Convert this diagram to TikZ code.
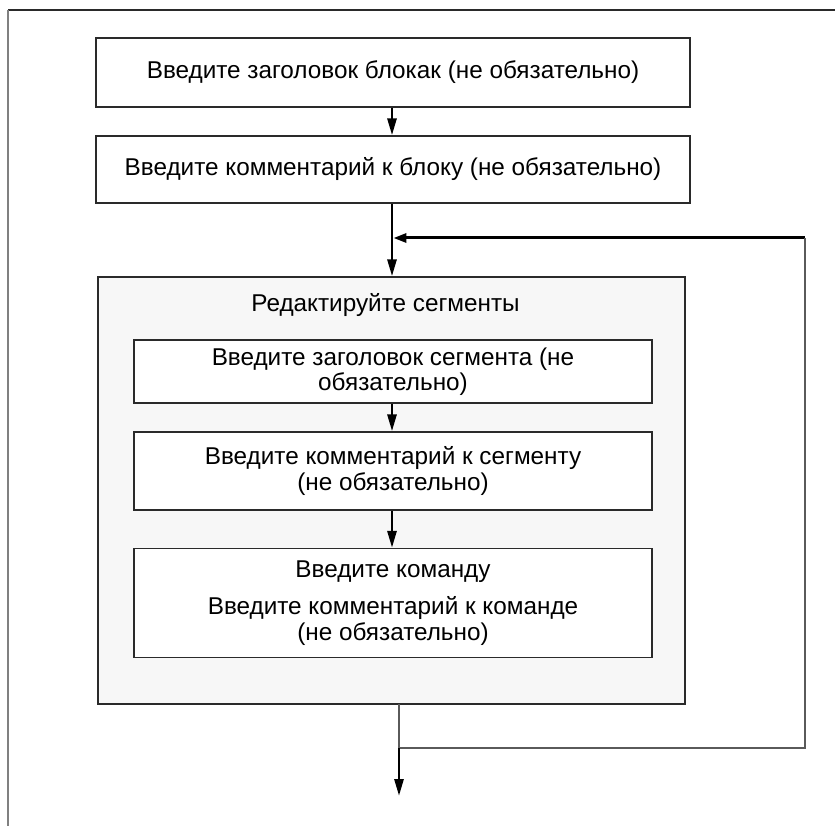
\documentclass[tikz,border=0pt]{standalone}
\usepackage{fontspec}
\setmainfont{Liberation Sans}
\usetikzlibrary{arrows.meta}
\definecolor{segfill}{HTML}{F7F7F7}
\definecolor{edge}{HTML}{2A2A2A}
\definecolor{thin}{HTML}{5A5A5A}
\begin{document}
\begin{tikzpicture}[x=1pt,y=-1pt,
  txt/.style={font=\fontsize{24.3}{25.5}\selectfont, align=center, inner sep=0pt},
  stepbox/.style={draw=edge, line width=1.3pt, fill=white, txt},
  segbox/.style={draw=edge, line width=1.3pt, fill=segfill},
  flow/.style={line width=2.8pt, -{Triangle[length=17pt,width=9pt]}},
  loopline/.style={draw=thin, line width=1.1pt}]
\useasboundingbox (0,0) rectangle (835,826);
% frame
\draw[draw=edge, line width=1.4pt] (8,10) -- (835,10);
\draw[draw=gray, line width=2pt] (8,10) -- (8,826);
% top boxes
\node[stepbox, minimum width=594pt, minimum height=69pt] (b1) at (393,72.5)
  {Введите заголовок блокак (не обязательно)};
\node[stepbox, minimum width=594pt, minimum height=67pt] (b2) at (393,169.5)
  {Введите комментарий к блоку (не обязательно)};
% segment box
\node[segbox, minimum width=587pt, minimum height=427pt] (seg) at (391.5,490.5) {};
\node[txt] (segt) at (385.5,305) {Редактируйте сегменты};
\node[stepbox, minimum width=518pt, minimum height=63pt] (sa) at (393,371.5)
  {Введите заголовок сегмента (не\\обязательно)};
\node[stepbox, minimum width=518pt, minimum height=78pt] (sb) at (393,471)
  {Введите комментарий к сегменту\\(не обязательно)};
\node[stepbox, minimum width=518pt, minimum height=109pt] (sc) at (393,603)
  {Введите команду\\[12pt]Введите комментарий к команде\\(не обязательно)};
% connectors
\coordinate (join) at (392,238);
\coordinate (loopR) at (805,238);
\coordinate (loopB) at (805,748);
\coordinate (outJ) at (399,748);
\coordinate (segOut) at (399,704);
\coordinate (endP) at (399,796);
\draw[flow] (b1.south -| join) -- (b2.north -| join);
\draw[line width=2.8pt] (b2.south -| join) -- (join);
\draw[flow] (join) -- (seg.north -| join);
\draw[line width=3pt, -{Triangle[length=13pt,width=9pt]}] (loopR) -- ([xshift=1.4pt]join);
\draw[flow] (sa.south -| join) -- (sb.north -| join);
\draw[flow] (sb.south -| join) -- (sc.north -| join);
\draw[loopline] (segOut) -- (outJ) -- (loopB) -- (loopR);
\draw[flow] (outJ) -- (endP);
\end{tikzpicture}
\end{document}
